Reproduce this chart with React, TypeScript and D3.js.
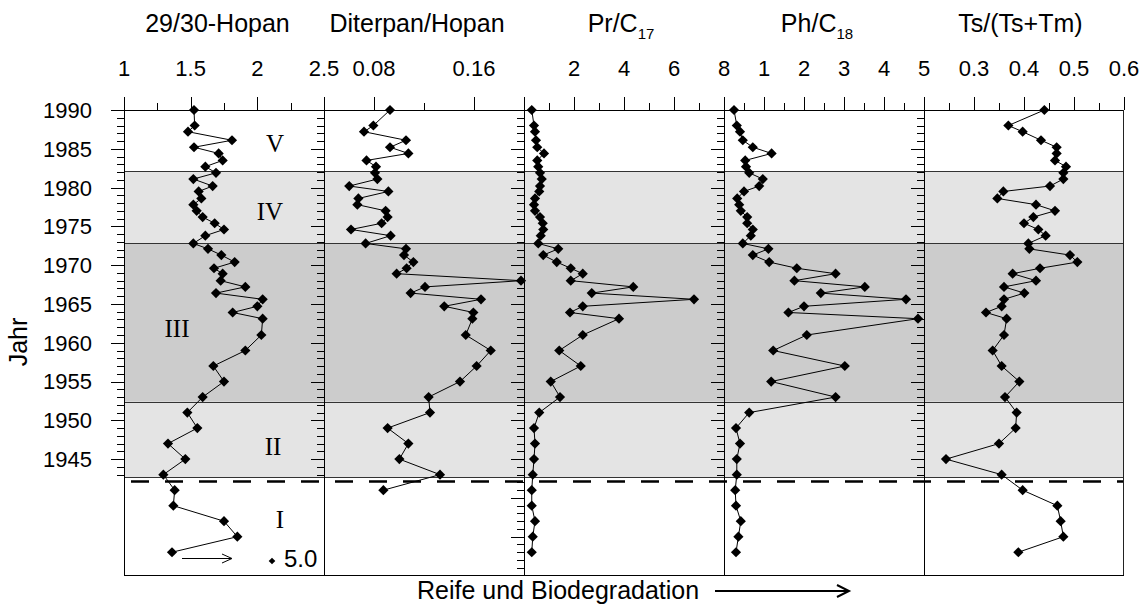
import React from 'react';
import * as d3 from 'd3';

// ---- data ----
const years = [
  1990, 1988, 1987.2, 1986.1, 1985.2, 1984.4, 1983.5, 1982.7, 1981.9, 1981.1,
  1980.2, 1979.5, 1978.6, 1977.8, 1977.0, 1976.2, 1975.4, 1974.6, 1973.8, 1972.8,
  1972.1, 1971.3, 1970.4, 1969.6, 1968.9, 1968.0, 1967.2, 1966.4, 1965.6, 1964.7,
  1963.9, 1963.1, 1961, 1959, 1957, 1955, 1953, 1951, 1949, 1947,
  1945, 1943, 1941, 1939, 1937, 1935, 1933,
];

const hopan2930 = [
  1.525, 1.53, 1.48, 1.81, 1.525, 1.71, 1.74, 1.61, 1.69, 1.52,
  1.665, 1.56, 1.58, 1.52, 1.545, 1.59, 1.68, 1.75, 1.61, 1.52,
  1.63, 1.73, 1.83, 1.675, 1.74, 1.725, 1.91, 1.69, 2.04, 2.0,
  1.815, 2.04, 2.03, 1.91, 1.67, 1.75, 1.59, 1.475, 1.55, 1.33,
  1.46, 1.295, 1.38, 1.37, 1.75, 1.85, 1.36,
];

const diterpanHopan = [
  0.0928, 0.0795, 0.072, 0.1056, 0.0928, 0.1075, 0.074, 0.0816, 0.0808, 0.0827,
  0.0602, 0.0915, 0.0675, 0.0667, 0.0893, 0.0909, 0.0861, 0.0616, 0.0933, 0.0733,
  0.1056, 0.104, 0.1115, 0.1061, 0.0981, 0.1976, 0.1208, 0.1093, 0.1656, 0.1362,
  0.1595, 0.1587, 0.1534, 0.1734, 0.1621, 0.1488, 0.1237, 0.1248, 0.0909, 0.1075,
  0.1003, 0.1328, 0.0875,
];

const prC17 = [
  0.31, 0.40, 0.44, 0.48, 0.53, 0.80, 0.53, 0.57, 0.64, 0.71,
  0.64, 0.61, 0.44, 0.40, 0.44, 0.64, 0.75, 0.77, 0.67, 0.57,
  1.37, 0.77, 1.31, 1.87, 2.35, 1.87, 4.37, 2.71, 6.8, 2.35,
  1.84, 3.8, 2.35, 1.41, 2.27, 1.07, 1.44, 0.61, 0.40, 0.44,
  0.40, 0.35, 0.31, 0.31, 0.44, 0.35, 0.31,
];

const phC18 = [
  0.25, 0.32, 0.40, 0.47, 0.72, 1.19, 0.53, 0.55, 0.63, 0.97,
  0.88, 0.50, 0.33, 0.38, 0.42, 0.58, 0.58, 0.72, 0.67, 0.47,
  1.11, 0.72, 1.13, 1.82, 2.79, 1.76, 3.52, 2.42, 4.55, 2.0,
  1.61, 4.85, 2.07, 1.23, 3.02, 1.18, 2.79, 0.63, 0.30, 0.40,
  0.32, 0.32, 0.28, 0.30, 0.42, 0.36, 0.30,
];

const tsTsTm = [
  0.4407, 0.3687, 0.3973, 0.434, 0.4653, 0.4653, 0.462, 0.484, 0.4787, 0.4787,
  0.452, 0.3587, 0.3467, 0.424, 0.462, 0.4187, 0.40, 0.4287, 0.4433, 0.4087,
  0.4107, 0.492, 0.5067, 0.432, 0.3773, 0.424, 0.36, 0.4007, 0.36, 0.3553,
  0.324, 0.3653, 0.36, 0.3373, 0.3553, 0.3907, 0.362, 0.3853, 0.3833, 0.35,
  0.244, 0.3553, 0.3973, 0.4667, 0.4733, 0.4787, 0.3887,
];

const panelTitles = ['29/30-Hopan', 'Diterpan/Hopan', 'Pr/C|17', 'Ph/C|18', 'Ts/(Ts+Tm)'];
const panelDomains: [number, number][] = [[1, 2.5], [0.04, 0.2], [0, 8], [0, 5], [0.2, 0.6]];
const panelMajors = [[1, 1.5, 2, 2.5], [0.08, 0.16], [0, 2, 4, 6, 8], [0, 1, 2, 3, 4, 5], [0.2, 0.3, 0.4, 0.5, 0.6]];
const panelMinors = [[1.25, 1.75, 2.25], [0.04, 0.12, 0.2], [1, 3, 5, 7], [0.5, 1.5, 2.5, 3.5, 4.5], [0.25, 0.35, 0.45, 0.55]];
const panelLabels = [['1', '1.5', '2', '2.5'], ['0.08', '0.16'], ['', '2', '4', '6', '8'], ['', '1', '2', '3', '4', '5'], ['', '0.3', '0.4', '0.5', '0.6']];
const panelSeries = [hopan2930, diterpanHopan, prC17, phC18, tsTsTm];
const panelTickBottom = [1943, 1943, 1931, 1943, 1943];

const yearLabels = [1945, 1950, 1955, 1960, 1965, 1970, 1975, 1980, 1985, 1990];
const zoneBreaks = [1942.65, 1952.4, 1972.8, 1982.1];
const zoneNames = ['I', 'II', 'III', 'IV', 'V'];
const dashedYear = 1942.1;

// ---- layout ----
const W = 1146, H = 607;
const TOP = 110, BOTTOM = 575;
const LEFT = 124, PW = 200;
const SANS = '"Liberation Sans", Arial, Helvetica, sans-serif';
const SERIF = '"Liberation Serif", "Times New Roman", serif';
const titleX = [217.5, 417, 621, 817, 1020.5];
const zoneLabelPos = [[280, 528], [273, 455], [177, 336.7], [270, 220], [275, 151.7]];

export default function App() {
  const y = d3.scaleLinear().domain([1930, 1990]).range([BOTTOM + 0.5, TOP]);
  const xs = panelDomains.map((dom, i) =>
    d3.scaleLinear().domain(dom).range([LEFT + i * PW, LEFT + (i + 1) * PW])
  );
  const RIGHT = LEFT + 5 * PW;
  const diamond = d3.symbol(d3.symbolSquare, 52)();
  const smallDiamond = d3.symbol(d3.symbolSquare, 22)();

  const zoneFills = ['#ffffff', '#e4e4e4', '#cccccc', '#e4e4e4', '#ffffff'];
  const zoneEdges = [1930, ...zoneBreaks, 1990];

  return (
    <svg width={W} height={H} style={{ position: 'absolute', left: 0, top: 0, display: 'block', background: '#fff' }}>
      {/* shaded zones */}
      {zoneFills.map((f, i) => (
        <rect key={'z' + i} x={LEFT} width={RIGHT - LEFT}
          y={y(zoneEdges[i + 1])} height={y(zoneEdges[i]) - y(zoneEdges[i + 1])} fill={f} />
      ))}
      {zoneBreaks.map((b, i) => (
        <line key={'zb' + i} x1={LEFT} x2={RIGHT} y1={Math.round(y(b)) + 0.5} y2={Math.round(y(b)) + 0.5}
          stroke="#333" strokeWidth={1} />
      ))}
      <line x1={131} x2={RIGHT} y1={y(dashedYear)} y2={y(dashedYear)} stroke="#000" strokeWidth={2.5} strokeDasharray="18,16" />

      {/* frame */}
      <line x1={LEFT} x2={RIGHT} y1={TOP + 0.5} y2={TOP + 0.5} stroke="#000" />
      <line x1={LEFT} x2={RIGHT} y1={BOTTOM + 0.5} y2={BOTTOM + 0.5} stroke="#000" />
      <line x1={RIGHT - 0.5} x2={RIGHT - 0.5} y1={TOP} y2={BOTTOM} stroke="#222" />

      {panelSeries.map((vals, p) => {
        const x = xs[p];
        const x0 = LEFT + p * PW;
        const line = d3.line<number>().x((v) => x(v)).y((_, i) => y(years[i]));
        const tickYears = d3.range(panelTickBottom[p], 1991);
        return (
          <g key={'p' + p}>
            {/* left axis */}
            <line x1={x0 + 0.5} x2={x0 + 0.5} y1={TOP} y2={BOTTOM} stroke="#000" />
            {tickYears.map((yr) => {
              const len = yr % 5 === 0 ? 13 : 7;
              const yy = Math.round(y(yr)) + 0.5;
              return <line key={'yt' + yr} x1={x0 - len} x2={x0} y1={yy} y2={yy} stroke="#000" />;
            })}
            {/* top axis */}
            {panelMajors[p].map((v, i) => (
              <g key={'mj' + i}>
                <line x1={Math.round(x(v)) + 0.5} x2={Math.round(x(v)) + 0.5} y1={TOP - 13} y2={TOP} stroke="#000" />
                {panelLabels[p][i] ? (
                  <text x={x(v)} y={76} textAnchor="middle" fontFamily={SANS} fontSize={22}>{panelLabels[p][i]}</text>
                ) : null}
              </g>
            ))}
            {panelMinors[p].map((v, i) => (
              <line key={'mn' + i} x1={Math.round(x(v)) + 0.5} x2={Math.round(x(v)) + 0.5} y1={TOP - 7} y2={TOP} stroke="#000" />
            ))}
            {/* series */}
            <path d={line(vals) || ''} fill="none" stroke="#000" strokeWidth={1} />
            {vals.map((v, i) => (
              <path key={'pt' + i} d={diamond || ''} transform={`translate(${x(v)},${y(years[i])}) rotate(45)`} fill="#000" />
            ))}
            {/* title */}
            {panelTitles[p].includes('|') ? (
              <text x={titleX[p]} y={32} textAnchor="middle" fontFamily={SANS} fontSize={25}>
                {panelTitles[p].split('|')[0]}
                <tspan fontSize={15} dy={7}>{panelTitles[p].split('|')[1]}</tspan>
              </text>
            ) : (
              <text x={titleX[p]} y={32} textAnchor="middle" fontFamily={SANS} fontSize={25}>{panelTitles[p]}</text>
            )}
          </g>
        );
      })}

      {/* year labels */}
      {yearLabels.map((yr) => (
        <text key={'yl' + yr} x={92} y={y(yr)} dy="0.36em" textAnchor="end" fontFamily={SANS} fontSize={22}>{yr}</text>
      ))}
      <text transform={`translate(27,342) rotate(-90)`} textAnchor="middle" fontFamily={SANS} fontSize={25}>Jahr</text>

      {/* zone labels */}
      {zoneNames.map((n, i) => (
        <text key={'zn' + i} x={zoneLabelPos[i][0]} y={zoneLabelPos[i][1]} textAnchor="middle" fontFamily={SERIF} fontSize={25}>{n}</text>
      ))}

      {/* off-scale annotation in first panel */}
      <line x1={182} x2={231} y1={558.5} y2={558.5} stroke="#000" strokeWidth={1} />
      <path d="M222,554 L232,558.5 L222,563" fill="none" stroke="#000" strokeWidth={1} />
      <path d={smallDiamond || ''} transform="translate(272,561) rotate(45)" fill="#000" />
      <text x={284} y={567} fontFamily={SANS} fontSize={24}>5.0</text>

      {/* bottom label and arrow */}
      <text x={417} y={599} fontFamily={SANS} fontSize={25}>Reife und Biodegradation</text>
      <line x1={715} x2={849} y1={591} y2={591} stroke="#000" strokeWidth={2} />
      <path d="M837,585 L849,591 L837,597" fill="none" stroke="#000" strokeWidth={2} />
    </svg>
  );
}
